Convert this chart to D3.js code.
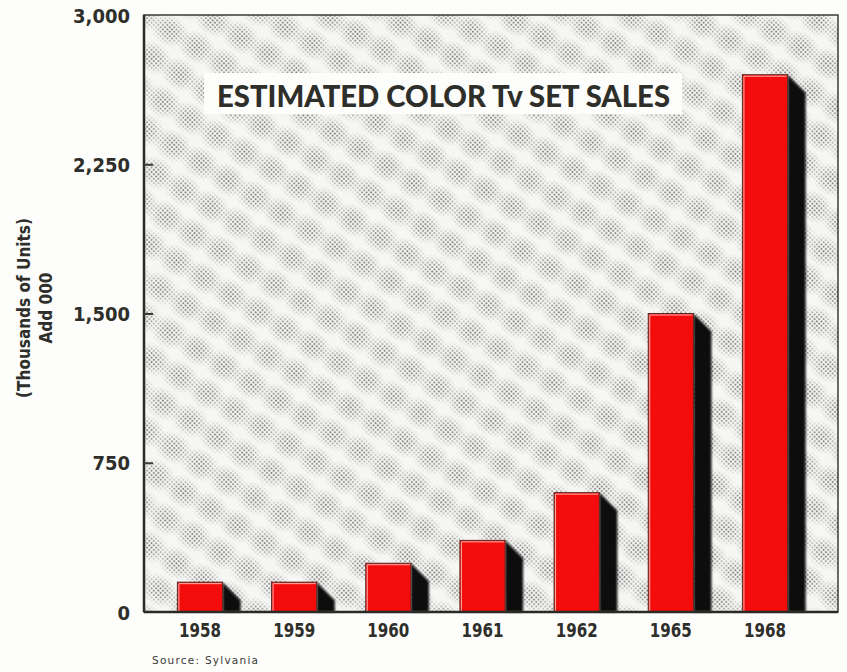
<!DOCTYPE html>
<html>
<head>
<meta charset="utf-8">
<script src="https://cdn.jsdelivr.net/npm/d3@7"></script>
<style>
  html, body { margin: 0; padding: 0; background: #fdfdfb; }
  svg { display: block; }
</style>
</head>
<body>
<svg id="chart" width="847" height="672"></svg>
<script>
// ---- data ----
const years = ["1958", "1959", "1960", "1961", "1962", "1965", "1968"];
const sales = [150, 150, 245, 360, 600, 1500, 2700];   // thousands of units
const yTicks = [0, 750, 1500, 2250, 3000];
const title = "ESTIMATED COLOR Tv SET SALES";
const yLabelLines = ["(Thousands of Units)", "Add 000"];
const source = "Source: Sylvania";

// ---- layout ----
const svg = d3.select("#chart");
const plot = { left: 144, right: 838, top: 15, bottom: 612 };
const condFont = "'DejaVu Sans Condensed', 'Liberation Sans Narrow', sans-serif";

const x = d3.scaleBand().domain(years).range([152.9, 812.1])
  .paddingInner(0.52).paddingOuter(0.26);
const y = d3.scaleLinear().domain([0, 3000]).range([plot.bottom, plot.top]);

const defs = svg.append("defs");

// halftone texture
const dots = defs.append("pattern").attr("id", "dots")
  .attr("width", 3.2).attr("height", 3.2).attr("patternUnits", "userSpaceOnUse")
  .attr("patternTransform", "rotate(45)");
dots.append("circle").attr("cx", 1.6).attr("cy", 1.6).attr("r", 1.1).attr("fill", "#707070");

const rg = defs.append("radialGradient").attr("id", "blobGrad");
rg.append("stop").attr("offset", "0%").attr("stop-color", "#fff").attr("stop-opacity", 0.9);
rg.append("stop").attr("offset", "45%").attr("stop-color", "#fff").attr("stop-opacity", 0.65);
rg.append("stop").attr("offset", "80%").attr("stop-color", "#fff").attr("stop-opacity", 0.2);
rg.append("stop").attr("offset", "100%").attr("stop-color", "#fff").attr("stop-opacity", 0);

const P = 32;
const blobs = defs.append("pattern").attr("id", "blobs")
  .attr("width", P).attr("height", P).attr("patternUnits", "userSpaceOnUse")
  .attr("patternTransform", "rotate(32)");
[[0, 0], [P, 0], [0, P], [P, P]].forEach(([cx, cy]) => {
  blobs.append("ellipse").attr("cx", cx).attr("cy", cy).attr("rx", 21).attr("ry", 16)
    .attr("fill", "url(#blobGrad)");
});

const mask = defs.append("mask").attr("id", "blobMask");
mask.append("rect").attr("x", plot.left).attr("y", plot.top)
  .attr("width", plot.right - plot.left).attr("height", plot.bottom - plot.top)
  .attr("fill", "url(#blobs)");

const blur = defs.append("filter").attr("id", "soft");
blur.append("feGaussianBlur").attr("stdDeviation", 0.8);

// background
svg.append("rect").attr("x", plot.left).attr("y", plot.top)
  .attr("width", plot.right - plot.left).attr("height", plot.bottom - plot.top)
  .attr("fill", "#f6f6f4");
svg.append("rect").attr("x", plot.left).attr("y", plot.top)
  .attr("width", plot.right - plot.left).attr("height", plot.bottom - plot.top)
  .attr("fill", "url(#dots)").attr("mask", "url(#blobMask)");

// title box
const tb = { x: 204, y: 73, w: 478, h: 41 };
svg.append("rect").attr("x", tb.x).attr("y", tb.y).attr("width", tb.w).attr("height", tb.h)
  .attr("fill", "#fdfdfb");
svg.append("text").attr("x", 217).attr("y", 107)
  .attr("font-family", "Lato, 'Open Sans', sans-serif").attr("font-weight", 900)
  .attr("font-size", 31).attr("fill", "#2e2e2a")
  .attr("textLength", 453).attr("lengthAdjust", "spacingAndGlyphs")
  .text(title);

// bars: shadow + front
const depthX = 18, depthY = 18;
const bars = svg.append("g");
years.forEach((yr, i) => {
  const x0 = x(yr), w = x.bandwidth(), yt = y(sales[i]), yb = y(0);
  const x1 = x0 + w;
  bars.append("path")
    .attr("d", `M${x1},${yt} L${x1 + depthX},${yt + depthY} L${x1 + depthX},${yb} L${x1},${yb} Z`)
    .attr("fill", "#080808").attr("filter", "url(#soft)");
  bars.append("rect").attr("x", x0).attr("y", yt).attr("width", w).attr("height", yb - yt)
    .attr("fill", "#f40c0c").attr("stroke", "#5a2a22").attr("stroke-width", 1);
  bars.append("path")
    .attr("d", `M${x0 + 1.5},${yb} L${x0 + 1.5},${yt + 1.5} L${x1 - 1},${yt + 1.5}`)
    .attr("fill", "none").attr("stroke", "#ffb0a8").attr("stroke-width", 1);
});

// frame
svg.append("rect").attr("x", plot.left).attr("y", plot.top)
  .attr("width", plot.right - plot.left).attr("height", plot.bottom - plot.top)
  .attr("fill", "none").attr("stroke", "#3a3a36").attr("stroke-width", 1.5);
svg.append("line").attr("x1", plot.left).attr("x2", plot.right)
  .attr("y1", plot.bottom).attr("y2", plot.bottom)
  .attr("stroke", "#2a2a26").attr("stroke-width", 2.5);
svg.append("line").attr("x1", plot.left).attr("x2", plot.left)
  .attr("y1", plot.top).attr("y2", plot.bottom)
  .attr("stroke", "#2a2a26").attr("stroke-width", 2.5);

// y axis
const yAxis = d3.axisLeft(y).tickValues(yTicks).tickFormat(d3.format(","))
  .tickSizeInner(-9).tickSizeOuter(0).tickPadding(14);
const ya = svg.append("g").attr("transform", `translate(${plot.left},0)`).call(yAxis);
ya.select(".domain").remove();
ya.selectAll(".tick line").attr("stroke", "#3a3a36").attr("stroke-width", 2)
  .filter(d => d === 0 || d === 3000).remove();
ya.selectAll(".tick text")
  .attr("font-family", condFont)
  .attr("font-weight", "bold").attr("font-size", 20).attr("fill", "#2e2e2a")
  .attr("dy", "0.36em");

// x axis
const xAxis = d3.axisBottom(x).tickSize(0).tickPadding(11);
const xa = svg.append("g").attr("transform", `translate(0,${plot.bottom})`).call(xAxis);
xa.select(".domain").remove();
xa.selectAll(".tick text")
  .attr("font-family", condFont)
  .attr("font-weight", "bold").attr("font-size", 20).attr("fill", "#2e2e2a")
  .attr("textLength", 42).attr("lengthAdjust", "spacingAndGlyphs")
  .attr("dy", "0.71em");

// y label
const yl = svg.append("g").attr("transform", "translate(0,308) rotate(-90)");
yLabelLines.forEach((t, i) => {
  yl.append("text").attr("x", 0).attr("y", 30 + i * 22)
    .attr("text-anchor", "middle")
    .attr("font-family", condFont)
    .attr("font-weight", "bold").attr("font-size", 17).attr("fill", "#2e2e2a")
    .text(t);
});

// source
svg.append("text").attr("x", 152).attr("y", 664)
  .attr("font-family", "'DejaVu Sans', sans-serif").attr("font-size", 10.5)
  .attr("fill", "#3a3a36").attr("textLength", 106).attr("lengthAdjust", "spacing")
  .text(source);
</script>
</body>
</html>
